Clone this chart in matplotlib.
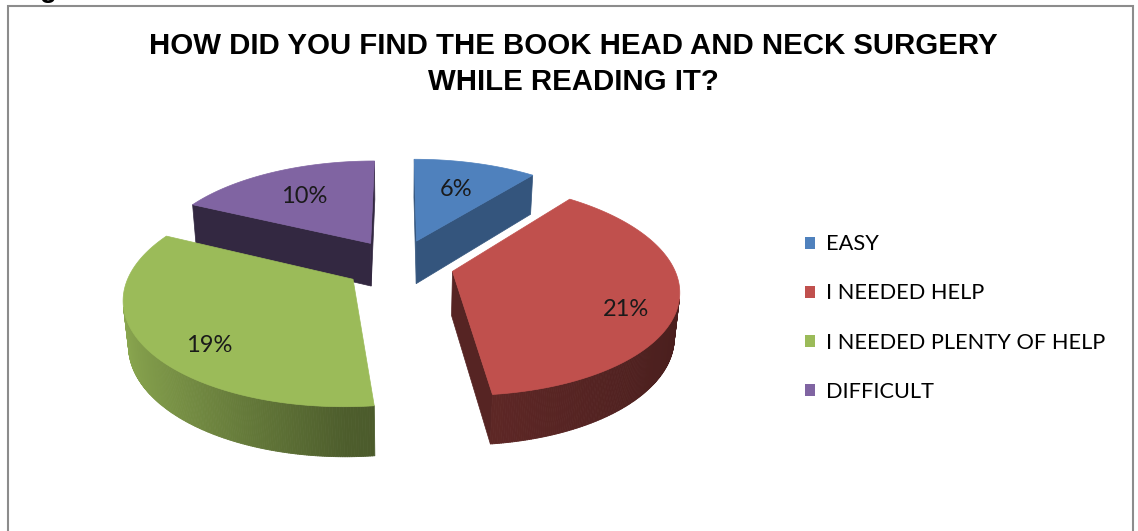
import numpy as np
import matplotlib
matplotlib.use('Agg')
import matplotlib.pyplot as plt
from matplotlib.patches import Polygon, Patch, Rectangle
from matplotlib.collections import PolyCollection
from matplotlib.colors import to_rgb

# data
categories = ['EASY', 'I NEEDED HELP', 'I NEEDED PLENTY OF HELP', 'DIFFICULT']
values = [6, 21, 19, 10]
title = 'HOW DID YOU FIND THE BOOK HEAD AND NECK SURGERY\nWHILE READING IT?'

# styles
colors = ['#4f81bd', '#c0504d', '#9bbb59', '#8064a2']
cut_shade = [0.66, 0.45, 0.5, 0.4]
label_r = [0.64, 0.78, 0.72, 0.66]

# 3d pie camera (pixel units)
ELEV = np.radians(27.5)
DIST = 5.544
FOCAL = 1221.0
CX, CY = 399.0, 264.2
EXPLODE = 0.25
HEIGHT = 0.228

W, H = 1138, 531
fig = plt.figure(figsize=(W / 100, H / 100), dpi=100)
ax = fig.add_axes([0, 0, 1, 1])
ax.set_xlim(0, W)
ax.set_ylim(H, 0)
ax.axis('off')

c, s = np.cos(ELEV), np.sin(ELEV)
cam = np.array([0.0, DIST * c, DIST * s])


def project(X, Y, Z):
    depth = DIST - (Y * c + Z * s)
    return CX + FOCAL * X / depth, CY - FOCAL * (Z * c - Y * s) / depth


def u(t):
    return np.array([np.sin(t), -np.cos(t)])


def shade(col, k):
    return tuple(np.clip(np.array(to_rgb(col)) * k, 0, 1))


def wall_k(t):
    st = np.sin(t)
    if st >= 0:
        return 0.5 - 0.12 * st
    return 0.5 + 0.4 * (-st)


frac = np.array(values, dtype=float) / sum(values)
edges = np.concatenate([[0], np.cumsum(frac)]) * 2 * np.pi

order = []
for i in range(len(values)):
    mid = (edges[i] + edges[i + 1]) / 2
    order.append((-np.cos(mid), i))
order.sort()

for _, i in order:
    t1, t2 = edges[i], edges[i + 1]
    mid = (t1 + t2) / 2
    off = EXPLODE * u(mid)
    col = colors[i]

    # radial cut faces
    for t, sign in ((t1, -1), (t2, 1)):
        n = sign * np.array([np.cos(t), np.sin(t)])
        p = off + 0.5 * u(t)
        if n @ (cam[:2] - p) > 0:
            rim = off + u(t)
            pts = [project(off[0], off[1], 0), project(rim[0], rim[1], 0),
                   project(rim[0], rim[1], -HEIGHT), project(off[0], off[1], -HEIGHT)]
            ax.add_patch(Polygon(pts, closed=True, fc=shade(col, cut_shade[i]),
                                 ec=shade(col, cut_shade[i]), lw=0.5))

    # outer wall
    ts = np.linspace(t1, t2, int(np.degrees(t2 - t1)) * 2 + 2)
    quads, fcs = [], []
    for a, b in zip(ts[:-1], ts[1:]):
        tm = (a + b) / 2
        p = off + u(tm)
        if u(tm) @ (cam[:2] - p) <= 0:
            continue
        pa, pb = off + u(a), off + u(b)
        quads.append([project(pa[0], pa[1], 0), project(pb[0], pb[1], 0),
                      project(pb[0], pb[1], -HEIGHT), project(pa[0], pa[1], -HEIGHT)])
        fcs.append(shade(col, wall_k(tm)))
    if quads:
        ax.add_collection(PolyCollection(quads, facecolors=fcs, edgecolors=fcs, linewidths=0.6))

    # top face
    arc = np.linspace(t1, t2, 200)
    pts = [project(off[0], off[1], 0)]
    for t in arc:
        p = off + u(t)
        pts.append(project(p[0], p[1], 0))
    ax.add_patch(Polygon(pts, closed=True, fc=col, ec=col, lw=0.5))

    # data label, dropped a little on the front slices
    lp = off + label_r[i] * u(mid)
    drop = -HEIGHT * 0.25 * (1 - np.cos(mid))
    lx, ly = project(lp[0], lp[1], drop)
    ax.text(lx, ly, f'{values[i]}%', ha='center', va='center', fontsize=17,
            family=['Lato', 'DejaVu Sans'], color='#1a1a1a')

handles = [Patch(facecolor=col, edgecolor='none') for col in colors]
fig.legend(handles, categories, loc='center left', bbox_to_anchor=(796 / W, 1 - 318 / H),
           frameon=False, prop={'family': ['Lato', 'DejaVu Sans'], 'size': 15.7},
           handlelength=0.47, handleheight=0.47, handletextpad=0.5, labelspacing=1.33,
           borderaxespad=0, borderpad=0.4)

fig.text(573 / W, 1 - 64 / H, title, ha='center', va='center', fontsize=21.2,
         fontweight='bold', family=['Liberation Sans', 'DejaVu Sans'], linespacing=1.4)

# chart frame and caption remnant
fig.add_artist(Rectangle((8 / W, -0.05), 1125 / W, 1.05 - 6 / H, transform=fig.transFigure,
                         fill=False, ec='#8c8c8c', lw=1.5))
fig.text(48 / W, 1 + 3 / H, 'g', ha='center', va='baseline', fontsize=20,
         fontweight='bold', family=['Liberation Sans', 'DejaVu Sans'])

fig.savefig('out.png', dpi=100)
